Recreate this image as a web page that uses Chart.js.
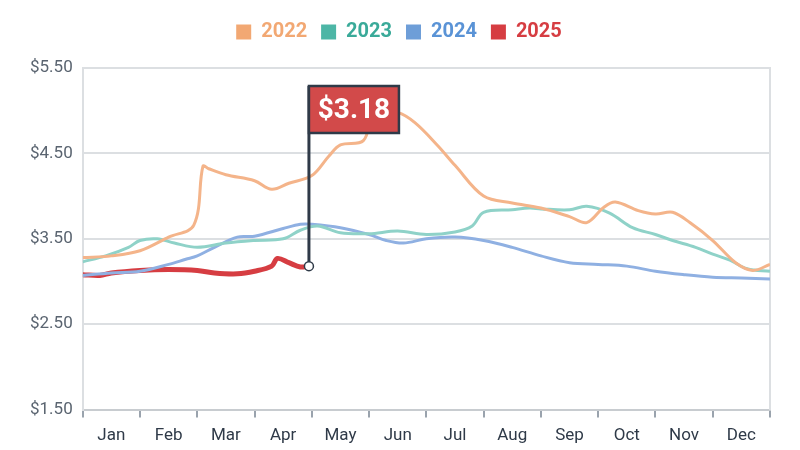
<!DOCTYPE html>
<html>
<head>
<meta charset="utf-8">
<script src="https://cdn.jsdelivr.net/npm/chart.js@4/dist/chart.umd.min.js"></script>
<style>
  body { margin: 0; background: #fff; }
  #wrap { width: 800px; height: 450px; }
</style>
</head>
<body>
<div id="wrap"><canvas id="gasChart"></canvas></div>
<script>
// month labels, x is measured in months from Jan 1
const months = ["Jan", "Feb", "Mar", "Apr", "May", "Jun", "Jul", "Aug", "Sep", "Oct", "Nov", "Dec"];

const t2022 = [0, 0.5, 1, 1.5, 1.94, 2.1, 2.2, 2.5, 3, 3.3, 3.6, 4, 4.3, 4.5, 4.9, 5.1, 5.5, 5.8, 6.2, 6.5, 7, 7.5, 8, 8.5, 8.8, 9.1, 9.3, 9.7, 10, 10.3, 10.6, 11, 11.4, 11.7, 12];
const v2022 = [3.28, 3.30, 3.36, 3.52, 3.66, 4.35, 4.32, 4.25, 4.18, 4.08, 4.15, 4.24, 4.47, 4.60, 4.65, 5.00, 4.98, 4.86, 4.59, 4.36, 4.00, 3.92, 3.86, 3.76, 3.69, 3.87, 3.93, 3.83, 3.79, 3.81, 3.69, 3.48, 3.22, 3.13, 3.20];

const t2023 = [0, 0.4, 0.8, 1, 1.3, 1.6, 2, 2.5, 3, 3.5, 3.8, 4.1, 4.5, 5, 5.5, 6, 6.5, 6.8, 7, 7.5, 7.8, 8, 8.5, 8.8, 9.2, 9.6, 10, 10.3, 10.7, 11, 11.3, 11.6, 12];
const v2023 = [3.23, 3.30, 3.40, 3.48, 3.50, 3.45, 3.40, 3.45, 3.48, 3.50, 3.60, 3.65, 3.57, 3.56, 3.59, 3.55, 3.58, 3.65, 3.81, 3.84, 3.86, 3.85, 3.84, 3.88, 3.80, 3.63, 3.55, 3.48, 3.40, 3.32, 3.25, 3.15, 3.12];

const t2024 = [0, 0.5, 1, 1.5, 1.8, 2, 2.3, 2.7, 3, 3.5, 3.8, 4, 4.5, 5, 5.3, 5.6, 6, 6.5, 7, 7.5, 8, 8.5, 9, 9.5, 10, 10.5, 11, 11.5, 12];
const v2024 = [3.07, 3.10, 3.12, 3.20, 3.26, 3.30, 3.40, 3.52, 3.53, 3.62, 3.67, 3.67, 3.63, 3.55, 3.48, 3.45, 3.50, 3.52, 3.48, 3.40, 3.30, 3.22, 3.20, 3.18, 3.12, 3.08, 3.05, 3.04, 3.03];

const t2025 = [0, 0.3, 0.5, 1, 1.5, 2, 2.3, 2.7, 3, 3.3, 3.4, 3.6, 3.8, 3.95];
const v2025 = [3.08, 3.07, 3.10, 3.13, 3.14, 3.13, 3.10, 3.09, 3.12, 3.18, 3.27, 3.22, 3.17, 3.18];

const yTicks = [1.5, 2.5, 3.5, 4.5, 5.5];

function pts(t, v) {
  return t.map((x, i) => ({ x: x, y: v[i] }));
}

const FONT = "'Liberation Sans Narrow', 'Roboto', sans-serif";

// flag callout over the latest 2025 value
const flagPlugin = {
  id: "flag",
  afterDatasetsDraw(chart) {
    const c = chart.ctx;
    const xs = chart.scales.x, ys = chart.scales.y;
    const lx = t2025[t2025.length - 1], lv = v2025[v2025.length - 1];
    const px = xs.getPixelForValue(lx), py = ys.getPixelForValue(lv);
    const top = 86, h = 47, w = 90;
    c.save();
    c.strokeStyle = "#2f3a48";
    c.lineWidth = 3;
    c.beginPath();
    c.moveTo(px, py);
    c.lineTo(px, top);
    c.stroke();
    c.fillStyle = "#d24a4a";
    c.fillRect(px, top, w, h);
    c.lineWidth = 2.5;
    c.strokeRect(px, top, w, h);
    c.fillStyle = "#fff";
    c.font = "bold 28px " + FONT;
    c.textAlign = "center";
    c.textBaseline = "middle";
    c.fillText("$" + lv.toFixed(2), px + w / 2, top + h / 2 + 1);
    c.beginPath();
    c.arc(px, py, 4.5, 0, Math.PI * 2);
    c.fillStyle = "#fff";
    c.fill();
    c.lineWidth = 1.5;
    c.stroke();
    c.restore();
  }
};

// extra room under the legend
const legendGap = {
  id: "legendGap",
  beforeInit(chart) {
    const fit = chart.legend.fit;
    chart.legend.fit = function () {
      fit.bind(chart.legend)();
      this.height += 16;
    };
  }
};

const ctx = document.getElementById("gasChart");

new Chart(ctx, {
  type: "line",
  data: {
    datasets: [
      { label: "2022", data: pts(t2022, v2022), borderColor: "#f4b48a", backgroundColor: "#f2a873", borderWidth: 3, pointRadius: 0, tension: 0.35 },
      { label: "2023", data: pts(t2023, v2023), borderColor: "#8fd2c8", backgroundColor: "#4db6a6", borderWidth: 3, pointRadius: 0, tension: 0.35 },
      { label: "2024", data: pts(t2024, v2024), borderColor: "#8fb0e2", backgroundColor: "#6e9ed8", borderWidth: 3, pointRadius: 0, tension: 0.35 },
      { label: "2025", data: pts(t2025, v2025), borderColor: "#d63d42", backgroundColor: "#d63d42", borderWidth: 5, pointRadius: 0, tension: 0.35 },
    ],
  },
  options: {
    responsive: true,
    maintainAspectRatio: false,
    animation: false,
    layout: { padding: { left: 20, right: 22, top: 8, bottom: 4 } },
    plugins: {
      tooltip: { enabled: false },
      legend: {
        labels: {
          boxWidth: 15,
          boxHeight: 15,
          padding: 14,
          font: { family: FONT, size: 20, weight: "bold" },
          generateLabels(chart) {
            const cols = ["#f2a873", "#3aaa99", "#5a93d6", "#d63d42"];
            return chart.data.datasets.map((d, i) => ({
              text: d.label,
              fillStyle: d.backgroundColor,
              strokeStyle: d.backgroundColor,
              lineWidth: 0,
              fontColor: cols[i],
              datasetIndex: i,
            }));
          },
        },
      },
    },
    scales: {
      x: {
        type: "linear",
        min: 0,
        max: 12,
        afterBuildTicks(s) { s.ticks = months.map((m, i) => ({ value: i })).concat([{ value: 12 }]); },
        ticks: { display: false },
        grid: { drawOnChartArea: false, tickLength: 8, color: "#9aa3ad", lineWidth: 2 },
        border: { color: "#c8ccd0", width: 2 },
      },
      x2: {
        type: "linear",
        position: "bottom",
        min: 0,
        max: 12,
        afterBuildTicks(s) { s.ticks = months.map((m, i) => ({ value: i + 0.5 })); },
        ticks: {
          color: "#2f3a48",
          font: { family: FONT, size: 17 },
          padding: 0,
          callback: (v) => months[Math.floor(v)],
        },
        grid: { display: false },
        border: { display: false },
      },
      y: {
        min: 1.5,
        max: 5.5,
        afterBuildTicks(s) { s.ticks = yTicks.map((v) => ({ value: v })); },
        ticks: {
          color: "#5a6470",
          font: { family: FONT, size: 17 },
          padding: 10,
          callback: (v) => "$" + Number(v).toFixed(2),
        },
        grid: { color: "#dcdfe2", lineWidth: 2, drawTicks: false },
        border: { color: "#dcdfe2", width: 2 },
      },
      yr: {
        position: "right",
        min: 1.5,
        max: 5.5,
        ticks: { display: false },
        grid: { display: false },
        border: { color: "#dcdfe2", width: 2 },
      },
    },
  },
  plugins: [flagPlugin, legendGap],
});
</script>
</body>
</html>
